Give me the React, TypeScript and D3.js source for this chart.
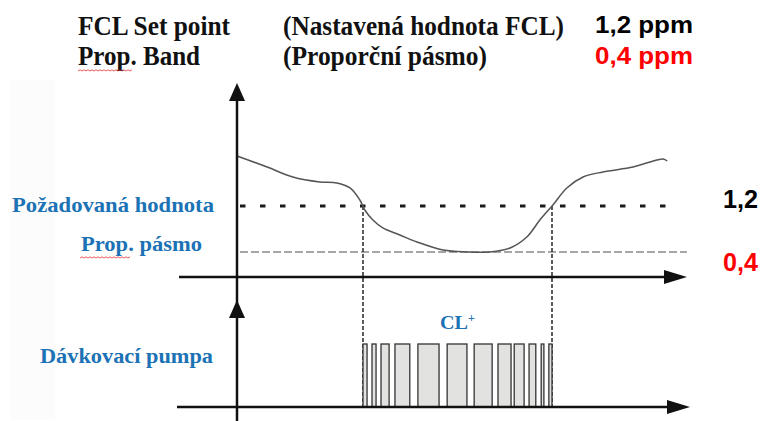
import React from "react";
import * as d3 from "d3";

// ---- data ----
const setPoint = 1.2; // ppm
const propBand = 0.4; // ppm
const bandLevel = setPoint - propBand;

// chlorine level curve: [time, ppm]
const curveTime = [0, 6.7, 12.4, 18.4, 22.2, 25.1, 27.3, 28.4, 30.2, 32.4, 36.2, 40, 45.8, 51.1, 56.2, 60.7, 64.4, 67.3, 70.2, 73.3, 76.9, 81.3, 88, 91.8, 94.7, 95.6];
const curveValue = [1.635, 1.539, 1.452, 1.409, 1.4, 1.357, 1.252, 1.165, 1.078, 1.009, 0.948, 0.887, 0.817, 0.8, 0.8, 0.835, 0.93, 1.078, 1.209, 1.357, 1.452, 1.496, 1.539, 1.583, 1.609, 1.591];

// pump pulses: start / end times
const pulseStart = [28.0, 30.0, 32.0, 35.1, 40.2, 46.7, 52.7, 58.0, 61.6, 64.9, 67.6, 69.3];
const pulseEnd = [28.9, 30.9, 33.8, 38.4, 44.9, 51.1, 56.7, 60.9, 63.8, 66.4, 68.2, 70.0];
const crossTimes = [28.0, 70.0];

const headerLeft = ["FCL Set point", "Prop. Band"];
const headerMid = ["(Nastavená hodnota FCL)", "(Proporční pásmo)"];
const headerRight = ["1,2 ppm", "0,4 ppm"];
const sideLabels = ["Požadovaná hodnota", "Prop. pásmo", "Dávkovací pumpa"];
const rightLabels = ["1,2", "0,4"];
const pumpLabel = "CL";

export default function App() {
  const W = 775, H = 421;
  const x = d3.scaleLinear().domain([0, 100]).range([237, 687]);
  // top panel y (ppm)
  const y = d3.scaleLinear().domain([bandLevel, setPoint]).range([252, 206]);
  // bottom panel y (pump on/off)
  const yp = d3.scaleLinear().domain([0, 1]).range([407, 344]);

  const pts: [number, number][] = curveTime.map((t, i) => [t, curveValue[i]]);
  const line = d3.line<[number, number]>().x(d => x(d[0])).y(d => y(d[1])).curve(d3.curveCatmullRom.alpha(0.5));

  const axisX = x(0);
  const topAxisY = 277;
  const botAxisY = yp(0);
  const blue = "#1b72b5";
  const serif = "'Liberation Serif', 'Times New Roman', serif";
  const sans = "'Liberation Sans', Arial, sans-serif";

  const wavy = (x0: number, x1: number, yy: number) => {
    let d = `M${x0},${yy}`;
    let up = true;
    for (let xx = x0 + 2; xx <= x1; xx += 2) {
      d += ` L${xx},${yy + (up ? -1.2 : 0)}`;
      up = !up;
    }
    return d;
  };

  return (
    <svg width={W} height={H} style={{ position: "absolute", left: 0, top: 0, background: "#fff" }}>
      <rect x={0} y={0} width={W} height={H} fill="#fff" />
      <rect x={10} y={80} width={45} height={340} fill="#fcfcfc" />

      {/* header */}
      <g fontFamily={serif} fontWeight="bold" fontSize={27} fill="#111">
        <text x={78} y={35} textLength={152} lengthAdjust="spacingAndGlyphs">{headerLeft[0]}</text>
        <text x={78} y={65} textLength={122} lengthAdjust="spacingAndGlyphs">{headerLeft[1]}</text>
        <text x={283} y={35} textLength={281} lengthAdjust="spacingAndGlyphs">{headerMid[0]}</text>
        <text x={283} y={65} textLength={204} lengthAdjust="spacingAndGlyphs">{headerMid[1]}</text>
      </g>
      <path d={wavy(78, 132, 71)} stroke="#e03030" strokeWidth={0.8} fill="none" />
      <g fontFamily={sans} fontWeight="bold" fontSize={23}>
        <text x={595} y={33} textLength={98} lengthAdjust="spacingAndGlyphs" fill="#000">{headerRight[0]}</text>
        <text x={595} y={64} textLength={98} lengthAdjust="spacingAndGlyphs" fill="#ff0000">{headerRight[1]}</text>
      </g>

      {/* side labels */}
      <g fontFamily={serif} fontWeight="bold" fontSize={21} fill={blue}>
        <text x={12} y={212} textLength={202} lengthAdjust="spacingAndGlyphs">{sideLabels[0]}</text>
        <text x={81} y={251} textLength={121} lengthAdjust="spacingAndGlyphs">{sideLabels[1]}</text>
        <text x={40} y={363} textLength={173} lengthAdjust="spacingAndGlyphs">{sideLabels[2]}</text>
      </g>
      <path d={wavy(80, 130, 258)} stroke="#e03030" strokeWidth={0.8} fill="none" />

      {/* right labels */}
      <g fontFamily={sans} fontWeight="bold" fontSize={25}>
        <text x={723} y={208} textLength={35} lengthAdjust="spacingAndGlyphs" fill="#000">{rightLabels[0]}</text>
        <text x={723} y={271} textLength={35} lengthAdjust="spacingAndGlyphs" fill="#ff0000">{rightLabels[1]}</text>
      </g>

      {/* setpoint dotted line */}
      <line x1={axisX + 3} x2={x(98)} y1={y(setPoint)} y2={y(setPoint)} stroke="#1a1a1a" strokeWidth={3.2} strokeDasharray="5.5 14.5" />
      {/* prop band dashed line */}
      <line x1={axisX + 3} x2={x(100)} y1={y(bandLevel)} y2={y(bandLevel)} stroke="#8a8a8a" strokeWidth={1.5} strokeDasharray="8 3" />

      {/* vertical drop lines */}
      {crossTimes.map((t, i) => (
        <line key={i} x1={x(t)} x2={x(t)} y1={y(setPoint)} y2={botAxisY} stroke="#333" strokeWidth={1.6} strokeDasharray="4 2" />
      ))}

      {/* chlorine curve */}
      <path d={line(pts) || ""} fill="none" stroke="#555" strokeWidth={1.5} />

      {/* pump pulses */}
      {pulseStart.map((s, i) => (
        <rect key={i} x={x(s)} y={yp(1)} width={x(pulseEnd[i]) - x(s)} height={yp(0) - yp(1)} fill="#e2e2e0" stroke="#333" strokeWidth={1.3} />
      ))}
      <text x={440} y={329} fontFamily={serif} fontWeight="bold" fontSize={18} fill={blue} textLength={28} lengthAdjust="spacingAndGlyphs">{pumpLabel}</text>
      <text x={468} y={322} fontFamily={serif} fontWeight="bold" fontSize={12} fill={blue}>+</text>

      {/* axes */}
      <line x1={axisX} x2={axisX} y1={95} y2={H} stroke="#111" strokeWidth={2.5} />
      <path d={`M${axisX},83 L${axisX - 8},101 L${axisX + 8},101 Z`} fill="#111" />
      <path d={`M${axisX},300 L${axisX - 8},318 L${axisX + 8},318 Z`} fill="#111" />
      <line x1={179} x2={676} y1={topAxisY} y2={topAxisY} stroke="#111" strokeWidth={2.5} />
      <path d={`M687,${topAxisY} L664,${topAxisY - 7} L664,${topAxisY + 7} Z`} fill="#111" />
      <line x1={177} x2={678} y1={botAxisY} y2={botAxisY} stroke="#111" strokeWidth={2.5} />
      <path d={`M690,${botAxisY} L667,${botAxisY - 7} L667,${botAxisY + 7} Z`} fill="#111" />
    </svg>
  );
}
